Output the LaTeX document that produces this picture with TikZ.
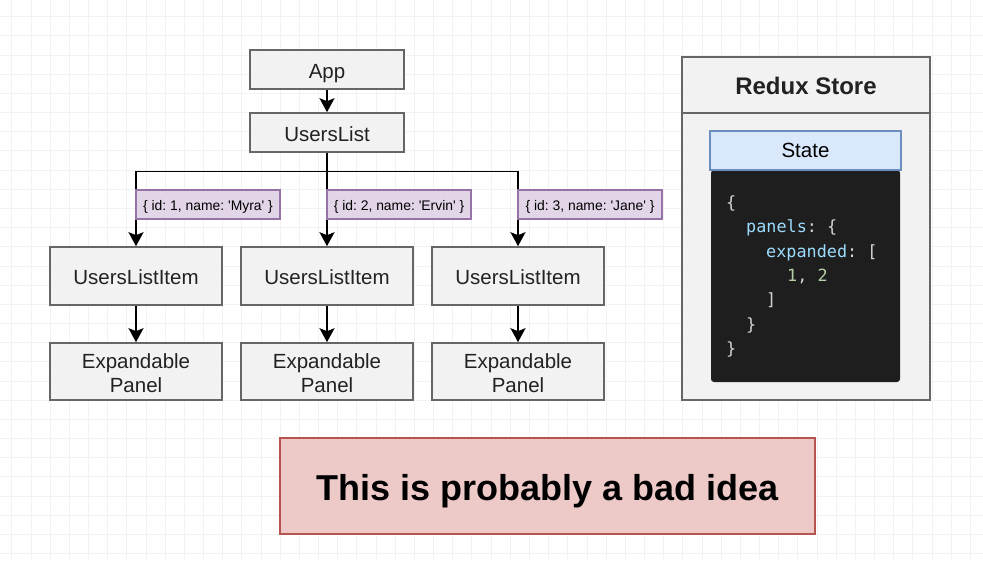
\documentclass[tikz,border=0pt]{standalone}
\usepackage{fontspec}
\setmainfont{Liberation Sans}
\setmonofont{DejaVu Sans Mono}
\usetikzlibrary{arrows.meta}
\definecolor{boxfill}{HTML}{F2F2F2}
\definecolor{boxline}{HTML}{666666}
\definecolor{lblfill}{HTML}{E1D5E7}
\definecolor{lblline}{HTML}{9673A6}
\definecolor{statefill}{HTML}{DAE8FC}
\definecolor{stateline}{HTML}{6C8EBF}
\definecolor{codebg}{HTML}{1E1E1E}
\definecolor{codekey}{HTML}{9CDCFE}
\definecolor{codenum}{HTML}{B5CEA8}
\definecolor{codepun}{HTML}{D4D4D4}
\definecolor{badfill}{HTML}{EDC9C7}
\definecolor{badline}{HTML}{B85450}
\definecolor{gridc}{HTML}{F2F2F2}
\definecolor{txt}{HTML}{222222}
\newcommand{\sq}{\textquotesingle}
\newcommand{\twoline}[2]{\raisebox{-4pt}[\height][\depth]{\begin{tabular}{@{}c@{}}#1\\#2\end{tabular}}}
\begin{document}
\frenchspacing
\begin{tikzpicture}[x=1pt,y=-1pt,
  box/.style={draw=boxline, fill=boxfill, line width=1.6pt, rectangle, inner sep=0pt,
    text=txt, font=\fontsize{20.5}{24}\selectfont, align=center},
  oneline/.style={text height=17pt, text depth=0pt},
  lbl/.style={draw=lblline, fill=lblfill, line width=1.3pt, rectangle, inner sep=0pt,
    minimum width=144pt, minimum height=29pt, font=\fontsize{13.9}{16}\selectfont, text=black,
    text height=11pt, text depth=0pt},
  arr/.style={draw=black, line width=1.9pt, -{Stealth[length=14pt, width=15pt, inset=3pt]}},
  ln/.style={draw=black, line width=1.9pt},
  code/.style={anchor=base west, inner sep=0pt, font=\ttfamily\fontsize{16.8}{20}\selectfont}
]
\useasboundingbox (0,0) rectangle (983,560);
\fill[white] (0,0) rectangle (983,560);
% grid
\foreach \i in {0,...,51} {
  \draw[gridc, line width=0.6pt] ({11.7+19.17*\i},0) -- ({11.7+19.17*\i},560);
}
\foreach \j in {0,...,29} {
  \draw[gridc, line width=0.6pt] (0,{16.6+19.17*\j}) -- (983,{16.6+19.17*\j});
}

% top nodes
\node[box, oneline, minimum width=154pt, minimum height=39pt] (app) at (327,69.5) {App};
\node[box, oneline, minimum width=154pt, minimum height=39pt] (ul) at (327,132.5) {UsersList};

% items
\node[box, oneline, minimum width=172pt, minimum height=58pt] (i1) at (136,276) {UsersListItem};
\node[box, oneline, minimum width=172pt, minimum height=58pt] (i2) at (327,276) {UsersListItem};
\node[box, oneline, minimum width=172pt, minimum height=58pt] (i3) at (518,276) {UsersListItem};

\node[box, minimum width=172pt, minimum height=57pt] (p1) at (136,371.5) {\twoline{Expandable}{Panel}};
\node[box, minimum width=172pt, minimum height=57pt] (p2) at (327,371.5) {\twoline{Expandable}{Panel}};
\node[box, minimum width=172pt, minimum height=57pt] (p3) at (518,371.5) {\twoline{Expandable}{Panel}};

\coordinate (bus) at (327,171.5);

% connectors
\draw[arr] (app.south) -- (ul.north);
\draw[ln] (ul.south) -- (bus);
\draw[arr] (bus) -| (i1.north);
\draw[arr] (bus) -| (i3.north);
\draw[arr] (bus) -- (i2.north);
\draw[arr] (i1.south) -- (p1.north);
\draw[arr] (i2.south) -- (p2.north);
\draw[arr] (i3.south) -- (p3.north);

% labels
\node[lbl] (l1) at (208,204.5) {\{ id: 1, name: \sq Myra\sq\ \}};
\node[lbl] (l2) at (399,204.5) {\{ id: 2, name: \sq Ervin\sq\ \}};
\node[lbl] (l3) at (590,204.5) {\{ id: 3, name: \sq Jane\sq\ \}};

% redux store
\node[draw=boxline, fill=boxfill, line width=1.6pt, rectangle, inner sep=0pt,
  minimum width=248pt, minimum height=343pt] (store) at (806,228.5) {};
\node[draw=boxline, fill=boxfill, line width=1.6pt, rectangle, inner sep=0pt,
  minimum width=248pt, minimum height=56pt, text=txt, text height=19.2pt, text depth=0pt,
  font=\bfseries\fontsize{24}{28}\selectfont] (storehead) at (806,85) {Redux Store};

\node[draw=none, fill=codebg, rounded corners=3pt, rectangle, inner sep=0pt,
  minimum width=189pt, minimum height=212pt] (codebox) at (805.5,276) {};
\node[draw=stateline, fill=statefill, line width=1.3pt, rectangle, inner sep=0pt,
  minimum width=191pt, minimum height=39pt, text=black, text height=14.7pt, text depth=0pt,
  font=\fontsize{20.5}{24}\selectfont] (state) at (805.5,150.5) {State};

\node[code, text=codepun] (c1) at (726,208) {\{};
\node[code] (c2) at (746,232.5) {\textcolor{codekey}{panels}\textcolor{codepun}{: \{}};
\node[code] (c3) at (766,257) {\textcolor{codekey}{expanded}\textcolor{codepun}{: [}};
\node[code] (c4) at (787,281) {\textcolor{codenum}{1}\textcolor{codepun}{, }\textcolor{codenum}{2}};
\node[code, text=codepun] (c5) at (766,305.5) {]};
\node[code, text=codepun] (c6) at (746,330) {\}};
\node[code, text=codepun] (c7) at (726,354) {\}};

% bad idea
\node[draw=badline, fill=badfill, line width=1.6pt, rectangle, inner sep=0pt,
  minimum width=535pt, minimum height=96pt, text=black, text height=29.8pt, text depth=0pt,
  font=\bfseries\fontsize{36}{40}\selectfont] (bad) at (547.5,486) {This is probably a bad idea};
\end{tikzpicture}
\end{document}
